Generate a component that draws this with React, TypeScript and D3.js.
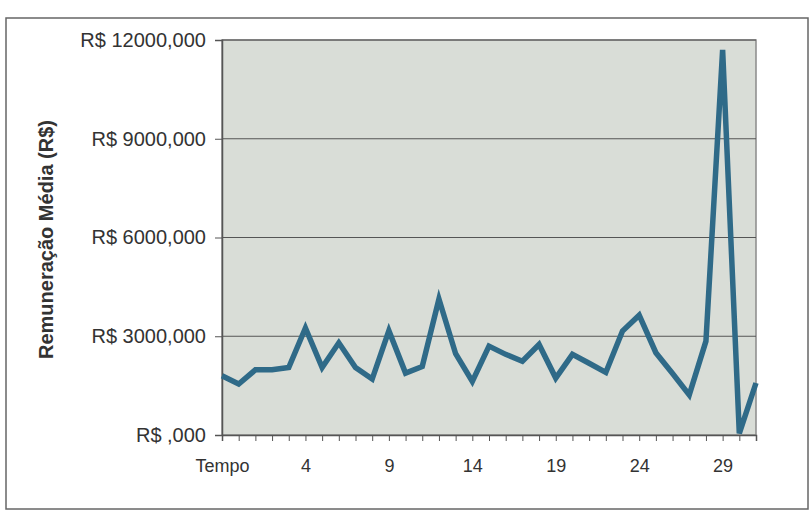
import { useRef, useEffect } from "react";
import * as d3 from "d3";

// categories as printed on the axis (first row is the column header)
const categories: string[] = [
  "Tempo", "0", "1", "2", "3", "4", "5", "6", "7", "8", "9", "10", "11", "12", "13", "14",
  "15", "16", "17", "18", "19", "20", "21", "22", "23", "24", "25", "26", "27", "28", "29", "30", "31"
];

// average pay per period (R$)
const values: number[] = [
  1800, 1550, 1980, 1980, 2050, 3250, 2050, 2800, 2050, 1700, 3170, 1880, 2080, 4130, 2470, 1630,
  2700, 2450, 2240, 2750, 1730, 2450, 2180, 1900, 3160, 3640, 2500, 1870, 1220, 2850, 11700, 50, 1580
];

const yTicks: number[] = [0, 3000, 6000, 9000, 12000];
const shownLabels: string[] = ["Tempo", "4", "9", "14", "19", "24", "29"];

const fmt = (v: number) => (v === 0 ? "R$ ,000" : `R$ ${v},000`);

export default function App() {
  const width = 812;
  const height = 519;
  const marginLeft = 222;
  const marginRight = 56;
  const marginTop = 40;
  const marginBottom = 84;

  const gxRef = useRef<SVGGElement | null>(null);
  const gyRef = useRef<SVGGElement | null>(null);

  const x = d3
    .scaleLinear<number, number>()
    .domain([0, categories.length - 1])
    .range([marginLeft, width - marginRight]);

  const y = d3
    .scaleLinear<number, number>()
    .domain([0, 12000])
    .range([height - marginBottom, marginTop]);

  const line = d3
    .line<[number, number]>()
    .x(d => x(d[0]))
    .y(d => y(d[1]));

  const lineData: [number, number][] = values.map((v, i) => [i, v]);

  useEffect(() => {
    if (gxRef.current) {
      const ax = d3
        .axisBottom(x)
        .tickValues(d3.range(categories.length))
        .tickSize(6)
        .tickFormat(i => {
          const c = categories[i as number];
          return shownLabels.includes(c) ? c : "";
        });
      const g = d3.select<SVGGElement, unknown>(gxRef.current).call(ax);
      g.select(".domain").attr("stroke", "#555").attr("stroke-width", 1.5);
      g.selectAll(".tick line").attr("stroke", "#555");
      g.selectAll(".tick text")
        .attr("font-family", "Liberation Sans, Arial, sans-serif")
        .attr("font-size", 18)
        .attr("fill", "#333")
        .attr("dy", "1.55em");
    }
    if (gyRef.current) {
      const ay = d3
        .axisLeft(y)
        .tickValues(yTicks)
        .tickSize(7)
        .tickPadding(9)
        .tickFormat(v => fmt(v as number));
      const g = d3.select<SVGGElement, unknown>(gyRef.current).call(ay);
      g.select(".domain").attr("stroke", "#555").attr("stroke-width", 1.5);
      g.selectAll(".tick line").attr("stroke", "#555");
      g.selectAll(".tick text")
        .attr("font-family", "Liberation Sans, Arial, sans-serif")
        .attr("font-size", 20)
        .attr("fill", "#333");
    }
  }, []);

  const plotH = height - marginTop - marginBottom;

  return (
    <svg
      width={width}
      height={height}
      style={{ position: "absolute", left: 0, top: 0, background: "#fff" }}
    >
      {/* outer chart frame */}
      <rect x={6} y={18} width={802} height={491} fill="#fff" stroke="#666" strokeWidth={1.5} />
      {/* plot area */}
      <rect
        x={marginLeft}
        y={marginTop}
        width={width - marginLeft - marginRight}
        height={plotH}
        fill="#d9ddd7"
        stroke="#8a8a8a"
        strokeWidth={1.5}
      />
      {/* gridlines */}
      <g stroke="#555" strokeWidth={1}>
        {yTicks.slice(1).map(t => (
          <line key={t} x1={marginLeft} x2={width - marginRight} y1={y(t)} y2={y(t)} />
        ))}
      </g>
      <g ref={gxRef} transform={`translate(0,${height - marginBottom})`} />
      <g ref={gyRef} transform={`translate(${marginLeft},0)`} />
      <path
        fill="none"
        stroke="#2f6a88"
        strokeWidth={5.5}
        strokeLinejoin="miter"
        d={line(lineData) || undefined}
      />
      <text
        transform={`translate(53,${marginTop + plotH / 2 + 2}) rotate(-90)`}
        textAnchor="middle"
        fontFamily="Liberation Sans, Arial, sans-serif"
        fontWeight="bold"
        fontSize={20}
        fill="#333"
      >
        Remuneração Média (R$)
      </text>
    </svg>
  );
}
